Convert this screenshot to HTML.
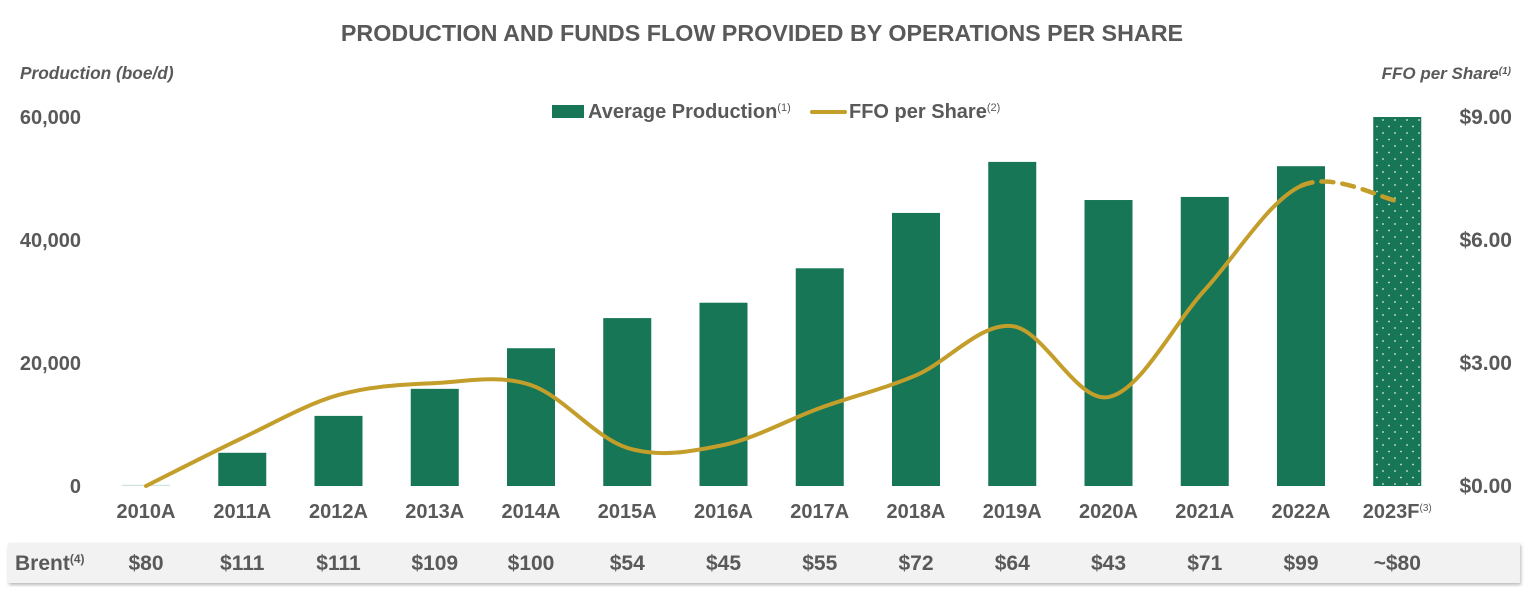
<!DOCTYPE html>
<html><head><meta charset="utf-8"><style>
body{margin:0;background:#fff;width:1532px;height:587px;overflow:hidden;font-family:"Liberation Sans",Arial,sans-serif}
svg text{font-family:"Liberation Sans",Arial,sans-serif;fill:#595959;font-weight:bold}
</style></head><body>
<svg id="chart" width="1532" height="587">
<defs>
<pattern id="dots" width="12" height="13" patternUnits="userSpaceOnUse">
<rect width="12" height="13" fill="#167656"/>
<circle cx="3" cy="3" r="0.9" fill="#d8eadf"/>
<circle cx="9" cy="9.5" r="0.9" fill="#d8eadf"/>
</pattern>
<filter id="sh" x="-1%" y="-20%" width="102%" height="150%"><feDropShadow dx="1" dy="2" stdDeviation="1.5" flood-color="#888" flood-opacity="0.6"/></filter>
</defs>
<text x="762" y="41" text-anchor="middle" font-size="23.3">PRODUCTION AND FUNDS FLOW PROVIDED BY OPERATIONS PER SHARE</text>
<text x="20" y="79" font-size="17.3" font-style="italic">Production (boe/d)</text>
<text x="1511" y="79" font-size="17" font-style="italic" text-anchor="end">FFO per Share<tspan font-size="10" dy="-5">(1)</tspan></text>
<g>
<rect x="552" y="105" width="32" height="13" fill="#167656"/>
<text x="588" y="118" font-size="20">Average Production<tspan font-size="11" font-weight="normal" dy="-7">(1)</tspan></text>
<line x1="812" y1="112" x2="845" y2="112" stroke="#c49e2a" stroke-width="4" stroke-linecap="round"/>
<text x="849" y="118" font-size="20">FFO per Share<tspan font-size="11" font-weight="normal" dy="-7">(2)</tspan></text>
</g>
<rect x="8" y="543" width="1512" height="40" fill="#f2f2f2" filter="url(#sh)"/>
<text x="15" y="570" font-size="21">Brent<tspan font-size="12" dy="-7">(4)</tspan></text>
<g id="g"></g>
</svg>
<script>
const categories=["2010A","2011A","2012A","2013A","2014A","2015A","2016A","2017A","2018A","2019A","2020A","2021A","2022A","2023F"];
const production=[200,5400,11400,15800,22400,27300,29800,35400,44400,52700,46500,47000,52000,60000];
const ffo=[0.0,1.17,2.22,2.51,2.46,0.93,1.0,1.9,2.7,3.9,2.17,4.78,7.32,6.95];
const brent=["$80","$111","$111","$109","$100","$54","$45","$55","$72","$64","$43","$71","$99","~$80"];
const leftTicks=[0,20000,40000,60000];
const leftTickLabels=["0","20,000","40,000","60,000"];
const rightTicks=[0,3,6,9];
const rightTickLabels=["$0.00","$3.00","$6.00","$9.00"];
const NS="http://www.w3.org/2000/svg",g=document.getElementById('g');
const x=i=>146+i*96.25, yL=v=>486-v/60000*369, yR=v=>486-v/9*369;
function mk(t,a,txt){const e=document.createElementNS(NS,t);for(const k in a)e.setAttribute(k,a[k]);if(txt!=null)e.textContent=txt;g.appendChild(e);return e;}
leftTicks.forEach((v,i)=>{const e=mk('text',{x:81,y:yL(v)+7,'text-anchor':'end','font-size':20},leftTickLabels[i]);

});
rightTicks.forEach((v,i)=>{const e=mk('text',{x:1512,y:yR(v)+7,'text-anchor':'end','font-size':21},rightTickLabels[i]);

});
production.forEach((v,i)=>{const last=i===production.length-1;const h=Math.max(486-yL(v),1);
const r=mk('rect',{x:x(i)-24,y:486-h,width:48,height:h,fill:i===0?'#cfe3dc':(last?'url(#dots)':'#167656')});


const t=mk('text',{x:x(i),y:518,'text-anchor':'middle','font-size':20},categories[i]);
if(last){const s=document.createElementNS(NS,'tspan');s.setAttribute('font-size','10');s.setAttribute('font-weight','normal');s.setAttribute('dy','-7');s.textContent='(3)';t.appendChild(s);}


const b=mk('text',{x:x(i),y:570,'text-anchor':'middle','font-size':21},brent[i]);

});
const P=ffo.map((v,i)=>[x(i),yR(v)]);
function seg(i){const p0=P[Math.max(i-1,0)],p1=P[i],p2=P[i+1],p3=P[Math.min(i+2,P.length-1)];
const c1=[p1[0]+(p2[0]-p0[0])/6,p1[1]+(p2[1]-p0[1])/6],c2=[p2[0]-(p3[0]-p1[0])/6,p2[1]-(p3[1]-p1[1])/6];
return `C${c1[0]},${c1[1]} ${c2[0]},${c2[1]} ${p2[0]},${p2[1]}`;}
let d=`M${P[0][0]},${P[0][1]}`;for(let i=0;i<P.length-2;i++)d+=seg(i);
const l=mk('path',{d:d,fill:'none',stroke:'#c49e2a','stroke-width':4,'stroke-linecap':'round'});


const n=P.length-2;
const l2=mk('path',{d:`M${P[n][0]},${P[n][1]}`+seg(n),fill:'none',stroke:'#c49e2a','stroke-width':4.5,'stroke-dasharray':'12 9','stroke-linecap':'round'});


</script>
</body></html>
